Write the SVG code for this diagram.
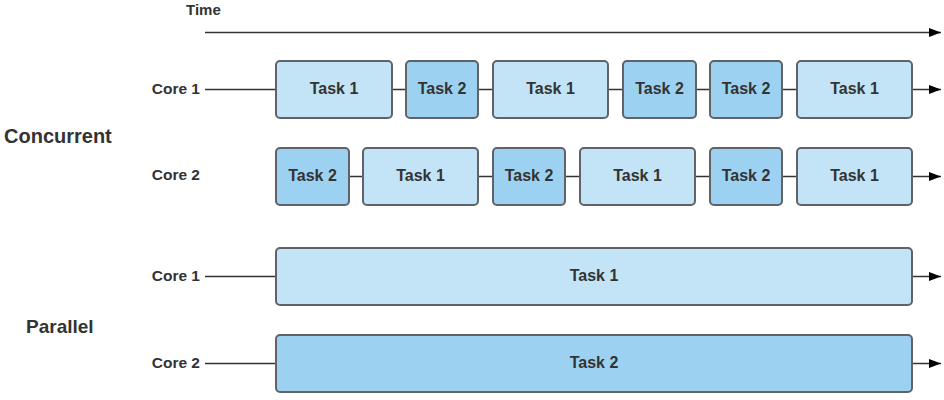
<svg xmlns="http://www.w3.org/2000/svg" width="944" height="400" viewBox="0 0 944 400">
<style>
text{font-family:"Liberation Sans",Arial,sans-serif;font-weight:bold;fill:#333}
.t{font-size:16px;text-anchor:middle;dominant-baseline:central}
.c{font-size:15.500px;text-anchor:end;dominant-baseline:central}
.h{font-size:20px;dominant-baseline:central}
.a{fill:#c3e4f6;stroke:#5f6368;stroke-width:2}
.b{fill:#9dd1f2;stroke:#5f6368;stroke-width:2}
.l{stroke:#333;stroke-width:1.5;fill:none}
</style>
<defs>
<marker id="ar" viewBox="0 0 12 10" refX="12" refY="5" markerWidth="12" markerHeight="10" markerUnits="userSpaceOnUse" orient="auto">
<path d="M0,0.5 L12,5 L0,9.500 z" fill="#000"/>
</marker>
</defs>
<rect width="944" height="400" fill="#fff"/>
<g id="connectors">
<line class="l" x1="205" y1="32.500" x2="941" y2="32.500" marker-end="url(#ar)"/>
<line class="l" x1="205" y1="89.500" x2="912" y2="89.500"/>
<line class="l" x1="912" y1="89.500" x2="941" y2="89.500" marker-end="url(#ar)"/>
<line class="l" x1="276" y1="176.500" x2="912" y2="176.500"/>
<line class="l" x1="912" y1="176.500" x2="941" y2="176.500" marker-end="url(#ar)"/>
<line class="l" x1="205" y1="276.500" x2="276" y2="276.500"/>
<line class="l" x1="912" y1="276.500" x2="941" y2="276.500" marker-end="url(#ar)"/>
<line class="l" x1="205" y1="363.500" x2="276" y2="363.500"/>
<line class="l" x1="912" y1="363.500" x2="941" y2="363.500" marker-end="url(#ar)"/>
</g>
<g id="labels">
<text x="186" y="9" style="font-size:15px;dominant-baseline:central">Time</text>
<text class="h" x="4" y="136">Concurrent</text>
<text class="h" x="26" y="326" style="font-size:19px">Parallel</text>
<text class="c" x="200" y="88">Core 1</text>
<text class="c" x="200" y="174.500">Core 2</text>
<text class="c" x="200" y="275">Core 1</text>
<text class="c" x="200" y="362">Core 2</text>
</g>
<g id="c1t1a"><rect class="a" x="276" y="61" width="116" height="57" rx="4"/><text class="t" x="334" y="88">Task 1</text></g>
<g id="c1t2a"><rect class="b" x="406" y="61" width="72" height="57" rx="4"/><text class="t" x="442" y="88">Task 2</text></g>
<g id="c1t1b"><rect class="a" x="493" y="61" width="115" height="57" rx="4"/><text class="t" x="550.500" y="88">Task 1</text></g>
<g id="c1t2b"><rect class="b" x="623" y="61" width="73" height="57" rx="4"/><text class="t" x="659.500" y="88">Task 2</text></g>
<g id="c1t2c"><rect class="b" x="710" y="61" width="72" height="57" rx="4"/><text class="t" x="746" y="88">Task 2</text></g>
<g id="c1t1c"><rect class="a" x="797" y="61" width="115" height="57" rx="4"/><text class="t" x="854.500" y="88">Task 1</text></g>
<g id="c2t2a"><rect class="b" x="276" y="148" width="73" height="57" rx="4"/><text class="t" x="312.500" y="175">Task 2</text></g>
<g id="c2t1a"><rect class="a" x="363" y="148" width="115" height="57" rx="4"/><text class="t" x="420.500" y="175">Task 1</text></g>
<g id="c2t2b"><rect class="b" x="493" y="148" width="72" height="57" rx="4"/><text class="t" x="529" y="175">Task 2</text></g>
<g id="c2t1b"><rect class="a" x="580" y="148" width="115" height="57" rx="4"/><text class="t" x="637.500" y="175">Task 1</text></g>
<g id="c2t2c"><rect class="b" x="710" y="148" width="72" height="57" rx="4"/><text class="t" x="746" y="175">Task 2</text></g>
<g id="c2t1c"><rect class="a" x="797" y="148" width="115" height="57" rx="4"/><text class="t" x="854.500" y="175">Task 1</text></g>
<g id="p1"><rect class="a" x="276" y="248" width="636" height="57" rx="4"/><text class="t" x="594" y="275">Task 1</text></g>
<g id="p2"><rect class="b" x="276" y="335" width="636" height="57" rx="4"/><text class="t" x="594" y="362">Task 2</text></g>
</svg>
